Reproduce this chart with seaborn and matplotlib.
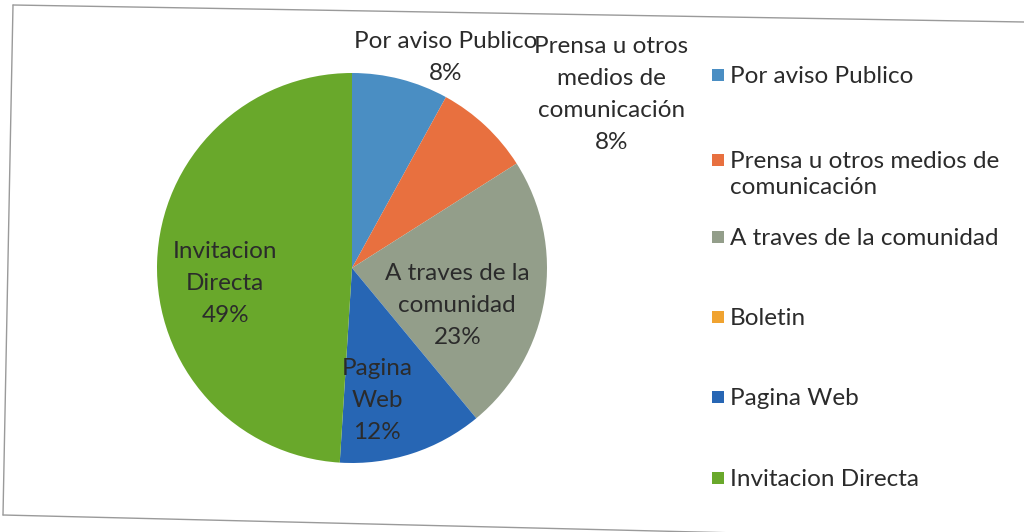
import matplotlib
matplotlib.use("Agg")
import matplotlib.pyplot as plt
from matplotlib.lines import Line2D
from matplotlib.patches import Rectangle
import seaborn as sns

# Data
categories = ["Por aviso Publico", "Prensa u otros medios de comunicación",
              "A traves de la comunidad", "Boletin", "Pagina Web", "Invitacion Directa"]
legend_labels = ["Por aviso Publico", "Prensa u otros medios de\ncomunicación",
                 "A traves de la comunidad", "Boletin", "Pagina Web", "Invitacion Directa"]
slice_labels = ["Por aviso Publico", "Prensa u otros\nmedios de\ncomunicación",
                "A traves de la\ncomunidad", "", "Pagina\nWeb", "Invitacion\nDirecta"]
shares = [8, 8, 23, 0, 12, 49]
colors = ["#4A8EC3", "#E8703F", "#939E8A", "#F0A330", "#2766B4", "#69A82B"]

sns.set_theme(style="white")
plt.rcParams["font.family"] = ["Lato", "DejaVu Sans"]
text_color = "#2B2B2B"
fsize = 17.5

fig = plt.figure(figsize=(10.24, 5.32), dpi=100)
fig.patch.set_facecolor("white")

# pie axes: centre (352, 268) px, radius 195 px
ax = fig.add_axes([157 / 1024, 69 / 532, 390 / 1024, 390 / 532])
palette = sns.color_palette(colors)
wedges, _ = ax.pie(shares, colors=palette, startangle=90, counterclock=False,
                   radius=1.0, wedgeprops=dict(linewidth=0))
ax.set_xlim(-1, 1)
ax.set_ylim(-1, 1)
ax.set_aspect("auto")
ax.axis("off")

# label positions (pie units)
label_pos = [(0.48, 1.08), (1.33, 0.89), (0.54, -0.19), None, (0.13, -0.68), (-0.65, -0.08)]
for lab, share, pos in zip(slice_labels, shares, label_pos):
    if pos is None:
        continue
    ax.text(pos[0], pos[1], f"{lab}\n{share}%", ha="center", va="center",
            fontsize=fsize, color=text_color, linespacing=1.65, clip_on=False)

# legend drawn to match the original layout
legend_y = [75, 160, 237, 317, 397, 478]
for lab, col, y in zip(legend_labels, colors, legend_y):
    fig.patches.append(Rectangle((712 / 1024, 1 - (y + 6) / 532), 12 / 1024, 12 / 532,
                                 transform=fig.transFigure, facecolor=col, edgecolor="none"))
    fig.text(730 / 1024, 1 - (y - 9) / 532, lab, ha="left", va="top",
             fontsize=fsize, color=text_color, linespacing=1.3)

# chart frame (slightly skewed scan)
frame_col = "#9A9A9A"
fig.lines.append(Line2D([13 / 1024, 1.0], [1 - 5 / 532, 1 - 22 / 532], transform=fig.transFigure, color=frame_col, lw=1))
fig.lines.append(Line2D([13 / 1024, 3 / 1024], [1 - 5 / 532, 1 - 515 / 532], transform=fig.transFigure, color=frame_col, lw=1))
fig.lines.append(Line2D([3 / 1024, 1.0], [1 - 515 / 532, 1 - 540 / 532], transform=fig.transFigure, color=frame_col, lw=1))

fig.savefig("out.png", dpi=100)
